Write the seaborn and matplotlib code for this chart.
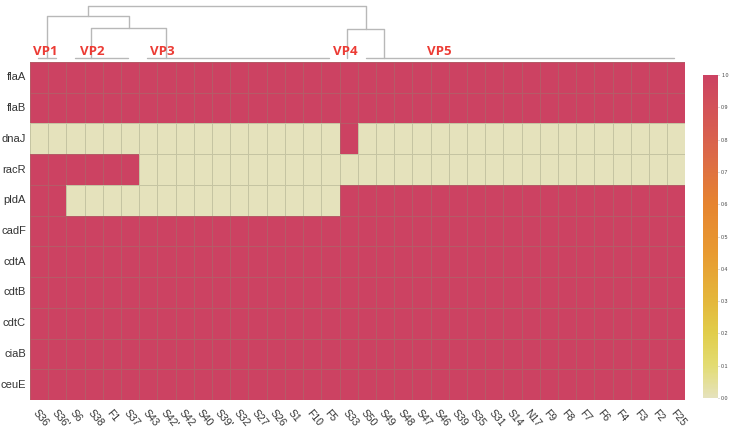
import numpy as np
import pandas as pd
import matplotlib
matplotlib.use("Agg")
import matplotlib.pyplot as plt
import seaborn as sns
from matplotlib.colors import LinearSegmentedColormap

# ---- data ----
samples = ["S36", "S36'", "S6", "S38", "F1", "S37", "S43", "S42'", "S42", "S40",
           "S39'", "S32", "S27", "S26", "S1", "F10", "F5", "S33", "S50", "S49",
           "S48", "S47", "S46", "S39", "S35", "S31", "S14", "N17", "F9", "F8",
           "F7", "F6", "F4", "F3", "F2", "F25"]
genes = ["flaA", "flaB", "dnaJ", "racR", "pldA", "cadF", "cdtA", "cdtB", "cdtC", "ciaB", "ceuE"]

flaA = [1, 1, 1, 1, 1, 1, 1, 1, 1, 1, 1, 1, 1, 1, 1, 1, 1, 1, 1, 1, 1, 1, 1, 1, 1, 1, 1, 1, 1, 1, 1, 1, 1, 1, 1, 1]
flaB = [1, 1, 1, 1, 1, 1, 1, 1, 1, 1, 1, 1, 1, 1, 1, 1, 1, 1, 1, 1, 1, 1, 1, 1, 1, 1, 1, 1, 1, 1, 1, 1, 1, 1, 1, 1]
dnaJ = [0, 0, 0, 0, 0, 0, 0, 0, 0, 0, 0, 0, 0, 0, 0, 0, 0, 1, 0, 0, 0, 0, 0, 0, 0, 0, 0, 0, 0, 0, 0, 0, 0, 0, 0, 0]
racR = [1, 1, 1, 1, 1, 1, 0, 0, 0, 0, 0, 0, 0, 0, 0, 0, 0, 0, 0, 0, 0, 0, 0, 0, 0, 0, 0, 0, 0, 0, 0, 0, 0, 0, 0, 0]
pldA = [1, 1, 0, 0, 0, 0, 0, 0, 0, 0, 0, 0, 0, 0, 0, 0, 0, 1, 1, 1, 1, 1, 1, 1, 1, 1, 1, 1, 1, 1, 1, 1, 1, 1, 1, 1]
cadF = [1, 1, 1, 1, 1, 1, 1, 1, 1, 1, 1, 1, 1, 1, 1, 1, 1, 1, 1, 1, 1, 1, 1, 1, 1, 1, 1, 1, 1, 1, 1, 1, 1, 1, 1, 1]
cdtA = [1, 1, 1, 1, 1, 1, 1, 1, 1, 1, 1, 1, 1, 1, 1, 1, 1, 1, 1, 1, 1, 1, 1, 1, 1, 1, 1, 1, 1, 1, 1, 1, 1, 1, 1, 1]
cdtB = [1, 1, 1, 1, 1, 1, 1, 1, 1, 1, 1, 1, 1, 1, 1, 1, 1, 1, 1, 1, 1, 1, 1, 1, 1, 1, 1, 1, 1, 1, 1, 1, 1, 1, 1, 1]
cdtC = [1, 1, 1, 1, 1, 1, 1, 1, 1, 1, 1, 1, 1, 1, 1, 1, 1, 1, 1, 1, 1, 1, 1, 1, 1, 1, 1, 1, 1, 1, 1, 1, 1, 1, 1, 1]
ciaB = [1, 1, 1, 1, 1, 1, 1, 1, 1, 1, 1, 1, 1, 1, 1, 1, 1, 1, 1, 1, 1, 1, 1, 1, 1, 1, 1, 1, 1, 1, 1, 1, 1, 1, 1, 1]
ceuE = [1, 1, 1, 1, 1, 1, 1, 1, 1, 1, 1, 1, 1, 1, 1, 1, 1, 1, 1, 1, 1, 1, 1, 1, 1, 1, 1, 1, 1, 1, 1, 1, 1, 1, 1, 1]

# clusters (first / last sample index) and the coarse dendrogram over them
groups = ["VP1", "VP2", "VP3", "VP4", "VP5"]
group_first = [0, 2, 6, 17, 18]
group_last = [1, 5, 16, 17, 35]
group_label_x = [0.82, 3.4, 7.25, 17.3, 22.5]
leaf_x = [0.92, 3.35, 7.47, 17.43, 19.45]
# (left, right, height); ids >= len(groups) refer to earlier merges
links = [(1, 2, 33.5), (0, 5, 46.3), (3, 4, 33.3), (6, 7, 56.0)]

df = pd.DataFrame([flaA, flaB, dnaJ, racR, pldA, cadF, cdtA, cdtB, cdtC, ciaB, ceuE],
                  index=genes, columns=samples)

cmap = LinearSegmentedColormap.from_list("pres", [
    (0.0, "#e5e2bc"), (0.1, "#e3dc72"), (0.2, "#e1cd4a"), (0.3, "#e4b73b"),
    (0.45, "#e89a31"), (0.6, "#e6842f"), (0.75, "#dc6a48"), (0.9, "#d35258"),
    (1.0, "#cc4262")])

sns.set_style("white")
plt.rcParams["font.family"] = ["Liberation Sans", "DejaVu Sans"]

fig = plt.figure(figsize=(7.33, 4.30), dpi=100)
ax = fig.add_axes([0.041, 0.0698, 0.894, 0.786])
cax = fig.add_axes([0.959, 0.0744, 0.021, 0.751])
dax = fig.add_axes([0.041, 0.856, 0.894, 0.144])

sns.heatmap(df, ax=ax, cbar_ax=cax, cmap=cmap, vmin=0, vmax=1,
            linewidths=0.6, linecolor=(0.55, 0.55, 0.45, 0.35))

ax.tick_params(axis="both", length=0, pad=3)
ax.set_yticklabels(genes, rotation=0, fontsize=8, color="#333333")
ax.set_xticklabels(samples, rotation=-50, ha="left", rotation_mode="anchor",
                   fontsize=7.5, color="#333333")
ax.tick_params(axis="x", pad=6)

cbar = ax.collections[0].colorbar
cbar.outline.set_visible(False)
cbar.set_ticks(np.arange(0, 1.01, 0.1))
cbar.set_ticklabels([f"{v:.1f}" for v in np.arange(0, 1.01, 0.1)])
cax.tick_params(length=1, width=0.4, pad=1, colors="#888888",
                labelcolor="#444444", labelsize=3.8)

# dendrogram
node_x = list(leaf_x)
node_h = [4.0] * len(groups)
dcol = "#b8b8b8"
for left, right, h in links:
    xl, xr = node_x[left], node_x[right]
    dax.plot([xl, xl, xr, xr], [node_h[left], h, h, node_h[right]], color=dcol, lw=1)
    node_x.append((xl + xr) / 2)
    node_h.append(h)

for name, a, b, lx in zip(groups, group_first, group_last, group_label_x):
    if b > a:
        dax.plot([a + 0.45, b + 0.4], [4.0, 4.0], color=dcol, lw=1)
    dax.text(lx, 10.5, name, color="#ec3b34", fontsize=9.5, fontweight="bold",
             family="Open Sans", ha="center", va="center")

dax.set_xlim(0, len(samples))
dax.set_ylim(0, 62)
dax.axis("off")

fig.savefig("out.png", dpi=100)
